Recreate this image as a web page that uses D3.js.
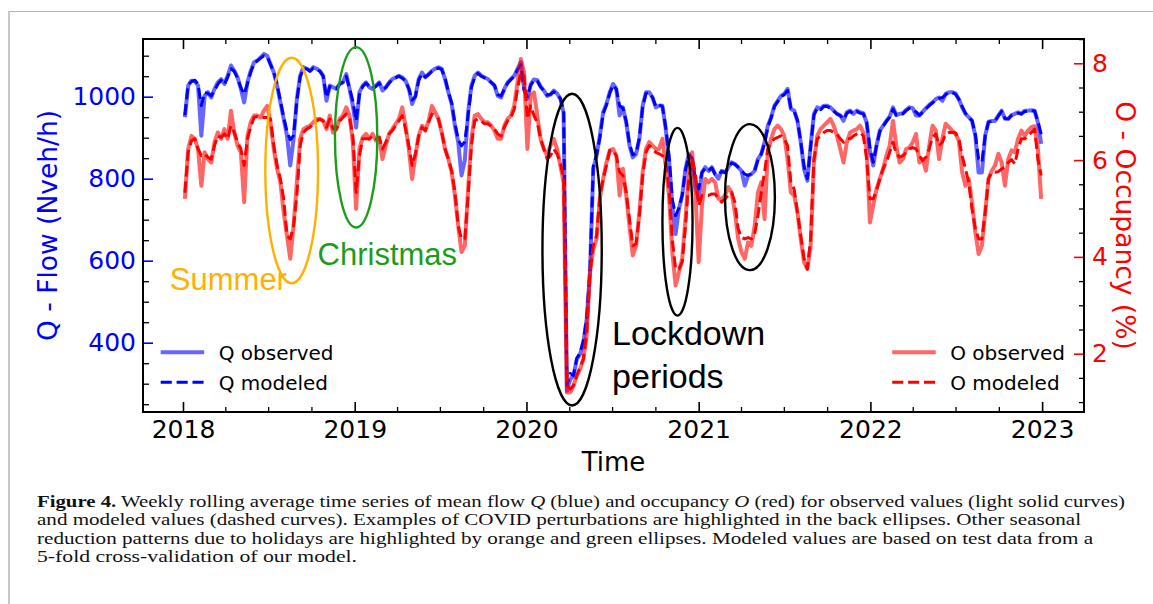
<!DOCTYPE html>
<html>
<head>
<meta charset="utf-8">
<script src="https://cdn.jsdelivr.net/npm/d3@7"></script>
<style>
  body { margin: 0; background: #fff; }
  svg text { font-family: "DejaVu Sans", sans-serif; }
</style>
</head>
<body>
<svg id="chart" width="1153" height="604"></svg>
<script>
// weekly rolling averages, one value per week from 2018-01-05
var firstWeek = Date.UTC(2018, 0, 5);

var qObserved = [
  950,1027,1039,1039,1027,905,1002,1011,998,1019,
  1035,1043,1031,1051,1076,1063,1047,1019,986,1035,
  1063,1084,1088,1096,1104,1100,1080,1059,1027,986,
  946,905,832,897,994,1051,1072,1068,1063,1072,
  1068,1063,1051,990,1027,
  1023,1019,1031,1035,1055,1019,978,925,1011,1027,
  1035,1023,1019,1027,1035,1015,1023,1035,1043,1047,
  1051,1047,1039,1019,982,1002,1043,1059,1047,1055,
  1063,1068,1072,1068,1043,1011,982,929,889,808,
  845,962,1027,1051,1059,1051,1047,1043,1035,1027,
  1002,998,1019,1035,1043,1051,1068,1084,
  1020,995,1030,1042,1040,1025,1015,1002,1005,1015,
  1008,995,960,283,310,320,360,372,401,458,
  572,824,856,905,962,982,1011,1031,1019,954,
  974,937,881,852,860,897,978,1011,1011,998,
  974,978,978,921,848,734,665,726,759,824,
  860,848,783,750,815,828,819,828,
  811,800,819,815,828,840,836,828,819,783,
  807,811,819,848,860,889,929,950,978,990,
  1002,1007,1019,970,966,941,889,824,795,881,
  958,974,970,978,978,974,966,958,954,941,
  962,966,958,966,962,960,937,868,832,881,
  917,929,941,952,974,955,958,960,
  968,974,972,954,954,963,972,980,986,994,
  998,990,1007,1011,1011,1008,994,974,958,950,
  941,905,815,815,905,939,941,941,954,966,
  946,946,955,958,962,958,966,966,967,966,
  937,885
];

var qModeled = [
  955,1030,1037,1040,1030,978,1010,1008,1002,1015,
  1030,1040,1030,1048,1068,1062,1045,1022,1006,1032,
  1060,1080,1088,1094,1100,1098,1078,1060,1030,990,
  950,915,895,905,990,1048,1068,1068,1062,1070,
  1066,1062,1050,998,1025,
  1020,1020,1030,1036,1050,1020,990,941,1005,1025,
  1033,1025,1020,1025,1033,1020,1022,1033,1042,1046,
  1050,1045,1038,1020,992,1000,1040,1056,1048,1054,
  1062,1066,1070,1066,1045,1012,985,935,895,880,
  890,955,1022,1048,1057,1050,1046,1042,1035,1028,
  1005,1002,1018,1033,1042,1050,1065,1078,
  1015,1000,1028,1040,1038,1024,1014,1004,1006,1012,
  1006,996,965,295,325,320,362,375,405,460,
  575,830,858,900,958,980,1008,1028,1018,978,
  972,940,885,858,862,900,975,1008,1010,998,
  976,980,976,925,855,750,710,728,760,820,
  858,850,800,775,815,826,820,826,
  811,810,818,815,826,838,835,828,820,811,
  808,812,820,846,860,886,926,948,976,988,
  1000,1005,1015,972,965,942,890,830,800,878,
  955,972,968,976,976,972,965,958,954,945,
  960,964,958,964,960,958,938,875,840,880,
  915,928,940,950,970,955,957,958,
  966,972,970,963,955,962,970,978,985,992,
  996,998,1005,1010,1010,1006,994,976,960,950,
  942,908,848,840,905,938,940,941,953,964,
  947,946,954,957,960,958,964,965,966,965,
  940,909
];

var oObserved = [
  5.20,6.23,6.50,6.44,6.23,5.47,6.16,6.02,5.95,6.37,
  6.57,6.44,6.64,6.44,7.02,6.57,6.30,6.16,5.13,6.50,
  6.78,6.92,6.92,6.88,7.02,7.12,6.78,6.23,5.82,5.54,
  4.92,4.44,3.96,4.64,5.54,6.44,6.64,6.68,6.71,6.78,
  6.85,6.85,6.81,6.64,6.92,
  6.57,6.64,6.85,6.92,7.09,6.92,6.37,4.99,6.23,6.47,
  6.54,6.44,6.54,6.40,6.47,6.02,6.30,6.54,6.64,6.75,
  6.85,7.09,6.71,6.23,5.61,6.09,6.50,6.71,6.61,6.81,
  7.12,6.99,6.85,6.57,6.23,6.02,5.75,5.27,4.64,4.10,
  4.23,5.40,6.44,6.92,6.95,6.85,6.78,6.78,6.71,6.61,
  6.44,6.44,6.71,6.85,6.92,7.12,7.61,8.09,
  7.81,6.23,7.33,7.40,6.92,6.44,6.23,6.09,6.30,6.44,
  6.23,5.89,5.54,1.20,1.20,1.34,1.55,1.68,1.89,2.37,
  3.68,4.16,4.37,5.20,5.61,5.95,6.20,6.23,6.09,5.27,
  5.82,5.27,4.64,4.03,4.23,4.92,5.75,6.23,6.37,6.30,
  6.23,6.23,6.44,5.89,5.27,4.10,3.41,3.68,3.96,4.78,
  5.75,6.16,5.33,3.89,5.06,5.61,5.54,5.61,
  5.54,5.20,5.20,5.27,5.44,5.33,4.92,4.37,4.10,3.96,
  4.30,4.23,4.64,5.33,5.54,4.78,6.16,6.44,6.64,6.71,
  6.64,6.50,6.02,5.33,5.27,4.92,4.37,3.89,3.75,4.23,
  5.95,6.50,6.64,6.71,6.78,6.85,6.71,6.50,6.23,5.95,
  6.37,6.57,6.61,6.64,6.71,6.57,6.23,4.71,5.06,5.40,
  5.61,5.82,6.09,6.30,6.81,6.30,5.95,6.02,
  6.23,6.26,6.37,6.54,5.95,6.02,5.78,6.30,6.71,6.61,
  6.02,6.44,6.75,6.68,6.61,6.54,6.40,5.75,5.47,5.61,
  5.13,4.51,4.06,4.23,4.92,5.61,5.78,5.89,6.13,5.95,
  5.47,6.02,6.20,6.16,6.44,6.61,6.50,6.61,6.68,6.70,
  6.23,5.20
];

var oModeled = [
  5.33,6.16,6.40,6.44,6.23,6.09,6.13,6.06,6.02,6.30,
  6.50,6.47,6.54,6.44,6.71,6.57,6.37,6.23,5.89,6.44,
  6.68,6.88,6.90,6.88,6.88,6.88,6.85,6.30,5.89,5.61,
  5.20,4.44,4.37,4.64,5.27,6.30,6.57,6.64,6.68,6.75,
  6.81,6.85,6.81,6.68,6.85,
  6.64,6.64,6.81,6.88,6.95,6.88,6.50,5.33,6.09,6.44,
  6.44,6.44,6.50,6.44,6.47,6.23,6.37,6.54,6.61,6.71,
  6.81,6.92,6.64,6.30,5.89,6.13,6.50,6.68,6.61,6.78,
  6.95,6.92,6.85,6.57,6.23,6.02,5.78,5.33,4.64,4.37,
  4.37,5.27,6.30,6.81,6.85,6.81,6.75,6.75,6.70,6.64,
  6.54,6.50,6.68,6.81,6.88,7.05,7.47,7.81,
  7.74,6.85,7.12,6.92,6.78,6.44,6.23,6.02,6.09,6.23,
  6.13,5.95,5.61,1.34,1.27,1.34,1.55,1.72,1.89,2.44,
  3.68,4.23,4.44,5.27,5.61,5.89,6.20,6.20,6.09,5.75,
  5.68,5.33,4.78,4.23,4.27,4.85,5.68,6.16,6.30,6.23,
  6.16,6.13,6.09,5.95,5.40,4.37,3.75,3.75,3.89,4.64,
  5.61,6.02,5.75,5.06,5.27,5.27,5.27,5.30,
  5.30,5.20,5.13,5.20,5.27,5.33,5.13,4.58,4.40,4.37,
  4.40,4.37,4.47,4.85,5.33,5.75,6.23,6.37,6.44,6.47,
  6.50,6.44,6.30,5.54,5.40,4.92,4.44,3.96,3.75,4.37,
  6.02,6.44,6.50,6.57,6.61,6.61,6.57,6.54,6.44,6.37,
  6.44,6.44,6.50,6.54,6.57,6.50,6.02,5.20,5.20,5.37,
  5.61,5.82,5.95,6.16,6.37,6.13,6.06,6.09,
  6.16,6.23,6.26,6.23,6.09,5.99,6.06,6.23,6.47,6.54,
  6.30,6.37,6.54,6.57,6.57,6.56,6.44,6.09,5.82,5.54,
  4.99,4.58,4.37,4.37,4.92,5.61,5.75,5.75,5.76,5.82,
  5.85,5.95,6.01,5.92,6.23,6.44,6.44,6.50,6.57,6.64,
  6.02,5.68
];

var yearTicks = [2018, 2019, 2020, 2021, 2022, 2023];
var qTicks = [400, 600, 800, 1000];
var oTicks = [2, 4, 6, 8];

// highlighted periods: centre date, centre flow, half width (days), half height (veh/h)
var ringDates  = ["2018-08-20", "2019-01-04", "2020-04-07", "2020-11-17", "2021-04-20"];
var ringFlow   = [820, 901, 627, 695, 755];
var ringDays   = [56, 45, 63, 32, 53];
var ringSpan   = [275, 220, 380, 229, 178];
var ringColors = ["#ffb000", "#1c9c1c", "#000", "#000", "#000"];

var noteText   = ["Summer", "Christmas", "Lockdown", "periods"];
var noteDates  = ["2017-12-04", "2018-10-14", "2020-07-01", "2020-07-01"];
var noteFlow   = [528, 589, 394, 289];
var noteColors = ["#ffb000", "#1c9c1c", "#000", "#000"];
var noteSizes  = [31, 31, 34, 34];

var svg = d3.select("#chart");
var L = 143, T = 39, R = 1084, B = 412;

var weeks = qObserved.map(function(d, i) { return new Date(firstWeek + i * 7 * 864e5); });

var x = d3.scaleUtc()
  .domain([new Date(Date.UTC(2017, 9, 8)), new Date(Date.UTC(2023, 2, 31))])
  .range([L, R]);
var yQ = d3.scaleLinear().domain([231, 1140.7]).range([B, T]);
var yO = d3.scaleLinear().domain([0.795, 8.502]).range([B, T]);

svg.append("rect").attr("width", 1153).attr("height", 604).attr("fill", "#fff");
// page frame
svg.append("line").attr("x1", 9).attr("x2", 1153).attr("y1", 11.5).attr("y2", 11.5)
  .attr("stroke", "#b4b4b4").attr("stroke-width", 1.2);
svg.append("line").attr("x1", 9).attr("x2", 9).attr("y1", 11).attr("y2", 604)
  .attr("stroke", "#c8c8c8").attr("stroke-width", 2);

function noDomain(g) { g.select(".domain").remove(); }

var majorDates = yearTicks.map(function(y) { return new Date(Date.UTC(y, 0, 1)); });
var minorDates = d3.utcMonth.every(3).range(x.domain()[0], x.domain()[1])
  .filter(function(d) { return d.getUTCMonth() !== 0; });

// bottom
svg.append("g").attr("transform", "translate(0," + B + ")")
  .call(d3.axisBottom(x).tickValues(majorDates).tickFormat(d3.utcFormat("%Y"))
    .tickSizeInner(-10).tickSizeOuter(0).tickPadding(8))
  .call(noDomain)
  .call(function(g) {
    g.selectAll("text").attr("fill", "#000").style("font-size", "25px");
    g.selectAll("line").attr("stroke", "#000").attr("stroke-width", 1.6);
  });
svg.append("g").attr("transform", "translate(0," + B + ")")
  .call(d3.axisBottom(x).tickValues(minorDates).tickFormat("").tickSizeInner(-5).tickSizeOuter(0))
  .call(noDomain)
  .selectAll("line").attr("stroke", "#000").attr("stroke-width", 1.3);
// top
svg.append("g").attr("transform", "translate(0," + T + ")")
  .call(d3.axisTop(x).tickValues(majorDates).tickFormat("").tickSizeInner(-10).tickSizeOuter(0))
  .call(noDomain)
  .selectAll("line").attr("stroke", "#000").attr("stroke-width", 1.6);
svg.append("g").attr("transform", "translate(0," + T + ")")
  .call(d3.axisTop(x).tickValues(minorDates).tickFormat("").tickSizeInner(-5).tickSizeOuter(0))
  .call(noDomain)
  .selectAll("line").attr("stroke", "#000").attr("stroke-width", 1.3);

// left (flow)
svg.append("g").attr("transform", "translate(" + L + ",0)")
  .call(d3.axisLeft(yQ).tickValues(d3.range(250, 1101, 50).filter(function(v) { return qTicks.indexOf(v) < 0; }))
    .tickFormat("").tickSizeInner(-6).tickSizeOuter(0))
  .call(noDomain)
  .selectAll("line").attr("stroke", "#000").attr("stroke-width", 1.3);
svg.append("g").attr("transform", "translate(" + L + ",0)")
  .call(d3.axisLeft(yQ).tickValues(qTicks).tickFormat(d3.format("d"))
    .tickSizeInner(-10).tickSizeOuter(0).tickPadding(7))
  .call(noDomain)
  .call(function(g) {
    g.selectAll("text").attr("fill", "#0000ff").style("font-size", "25px");
    g.selectAll("line").attr("stroke", "#0000ff").attr("stroke-width", 1.6);
  });

// right (occupancy)
svg.append("g").attr("transform", "translate(" + R + ",0)")
  .call(d3.axisRight(yO).tickValues(d3.range(1, 8.51, 0.5).filter(function(v) { return oTicks.indexOf(v) < 0; }))
    .tickFormat("").tickSizeInner(-5).tickSizeOuter(0))
  .call(noDomain)
  .selectAll("line").attr("stroke", "#000").attr("stroke-width", 1.3);
svg.append("g").attr("transform", "translate(" + R + ",0)")
  .call(d3.axisRight(yO).tickValues(oTicks).tickFormat(d3.format("d"))
    .tickSizeInner(-10).tickSizeOuter(0).tickPadding(8))
  .call(noDomain)
  .call(function(g) {
    g.selectAll("text").attr("fill", "#ff0000").style("font-size", "25px");
    g.selectAll("line").attr("stroke", "#ff0000").attr("stroke-width", 1.6);
  });

// axis titles
svg.append("text").attr("x", (L + R) / 2).attr("y", 471)
  .attr("text-anchor", "middle").style("font-size", "26px").text("Time");
svg.append("text").attr("transform", "translate(57," + (T + B) / 2 + ") rotate(-90)")
  .attr("text-anchor", "middle").attr("fill", "#0000ff").style("font-size", "26.5px")
  .text("Q - Flow (Nveh/h)");
svg.append("text").attr("transform", "translate(1116," + (T + B) / 2 + ") rotate(90)")
  .attr("text-anchor", "middle").attr("fill", "#ff0000").style("font-size", "26.5px")
  .text("O - Occupancy (%)");

// curves
var lineQ = d3.line().x(function(d, i) { return x(weeks[i]); }).y(function(d) { return yQ(d); });
var lineO = d3.line().x(function(d, i) { return x(weeks[i]); }).y(function(d) { return yO(d); });

var series = [
  { values: qObserved, line: lineQ, color: "#0000ff", light: true },
  { values: qModeled,  line: lineQ, color: "#0000ff", light: false },
  { values: oObserved, line: lineO, color: "#ff0000", light: true },
  { values: oModeled,  line: lineO, color: "#ff0000", light: false }
];

function styleCurve(sel, s) {
  sel.attr("fill", "none")
    .attr("stroke", s.color)
    .attr("stroke-linejoin", "round")
    .attr("stroke-width", s.light ? 4 : 3)
    .attr("stroke-opacity", s.light ? 0.6 : 1)
    .attr("stroke-dasharray", s.light ? null : "11.1,4.8");
}

series.forEach(function(s) {
  svg.append("path").datum(s.values).attr("d", s.line).call(styleCurve, s);
});

// highlight ellipses
ringDates.forEach(function(d, i) {
  var c = new Date(d + "T00:00:00Z");
  var cx = x(c);
  var rx = x(d3.utcDay.offset(c, ringDays[i])) - cx;
  var cy = yQ(ringFlow[i]);
  var ry = yQ(ringFlow[i] - ringSpan[i]) - cy;
  svg.append("ellipse").attr("cx", cx).attr("cy", cy).attr("rx", rx).attr("ry", ry)
    .attr("fill", "none").attr("stroke", ringColors[i]).attr("stroke-width", 2.4);
});

noteText.forEach(function(t, i) {
  svg.append("text")
    .attr("x", x(new Date(noteDates[i] + "T00:00:00Z")))
    .attr("y", yQ(noteFlow[i]))
    .attr("fill", noteColors[i])
    .style("font-family", "'Liberation Sans', Arial, sans-serif")
    .style("font-size", noteSizes[i] + "px")
    .text(t);
});

// legends (placed in axes fraction)
var legendRows = [0.160, 0.080];
function legend(fx, entries) {
  entries.forEach(function(e, i) {
    var ly = yQ.range()[0] - (yQ.range()[0] - yQ.range()[1]) * legendRows[i];
    var lx = L + (R - L) * fx;
    svg.append("path").attr("d", d3.line()([[lx, ly], [lx + 43.5, ly]])).call(styleCurve, e.s);
    svg.append("text").attr("x", lx + 58).attr("y", ly + 7.5).style("font-size", "20px").text(e.label);
  });
}
legend(0.0188, [{ s: series[0], label: "Q observed" }, { s: series[1], label: "Q modeled" }]);
legend(0.7962, [{ s: series[2], label: "O observed" }, { s: series[3], label: "O modeled" }]);

// frame
svg.append("rect").attr("x", L).attr("y", T).attr("width", R - L).attr("height", B - T)
  .attr("fill", "none").attr("stroke", "#000").attr("stroke-width", 2);

// caption
var caption = [
  { len: 1088, parts: [["Figure 4.", "bold"], [" Weekly rolling average time series of mean flow "], ["Q", "italic"],
    [" (blue) and occupancy "], ["O", "italic"], [" (red) for observed values (light solid curves)"]] },
  { len: 1044, parts: [["and modeled values (dashed curves). Examples of COVID perturbations are highlighted in the back ellipses. Other seasonal"]] },
  { len: 1056, parts: [["reduction patterns due to holidays are highlighted by orange and green ellipses. Modeled values are based on test data from a"]] },
  { len: 320, parts: [["5-fold cross-validation of our model."]] }
];
caption.forEach(function(line, i) {
  var t = svg.append("text").attr("x", 37).attr("y", 507 + i * 18.3)
    .attr("textLength", line.len).attr("lengthAdjust", "spacingAndGlyphs")
    .style("font-family", "'Liberation Serif', 'DejaVu Serif', serif")
    .style("font-size", "16px").attr("fill", "#111");
  line.parts.forEach(function(p) {
    var sp = t.append("tspan").text(p[0]);
    if (p[1] === "bold") sp.style("font-weight", "bold");
    if (p[1] === "italic") sp.style("font-style", "italic");
  });
});
</script>
</body>
</html>
